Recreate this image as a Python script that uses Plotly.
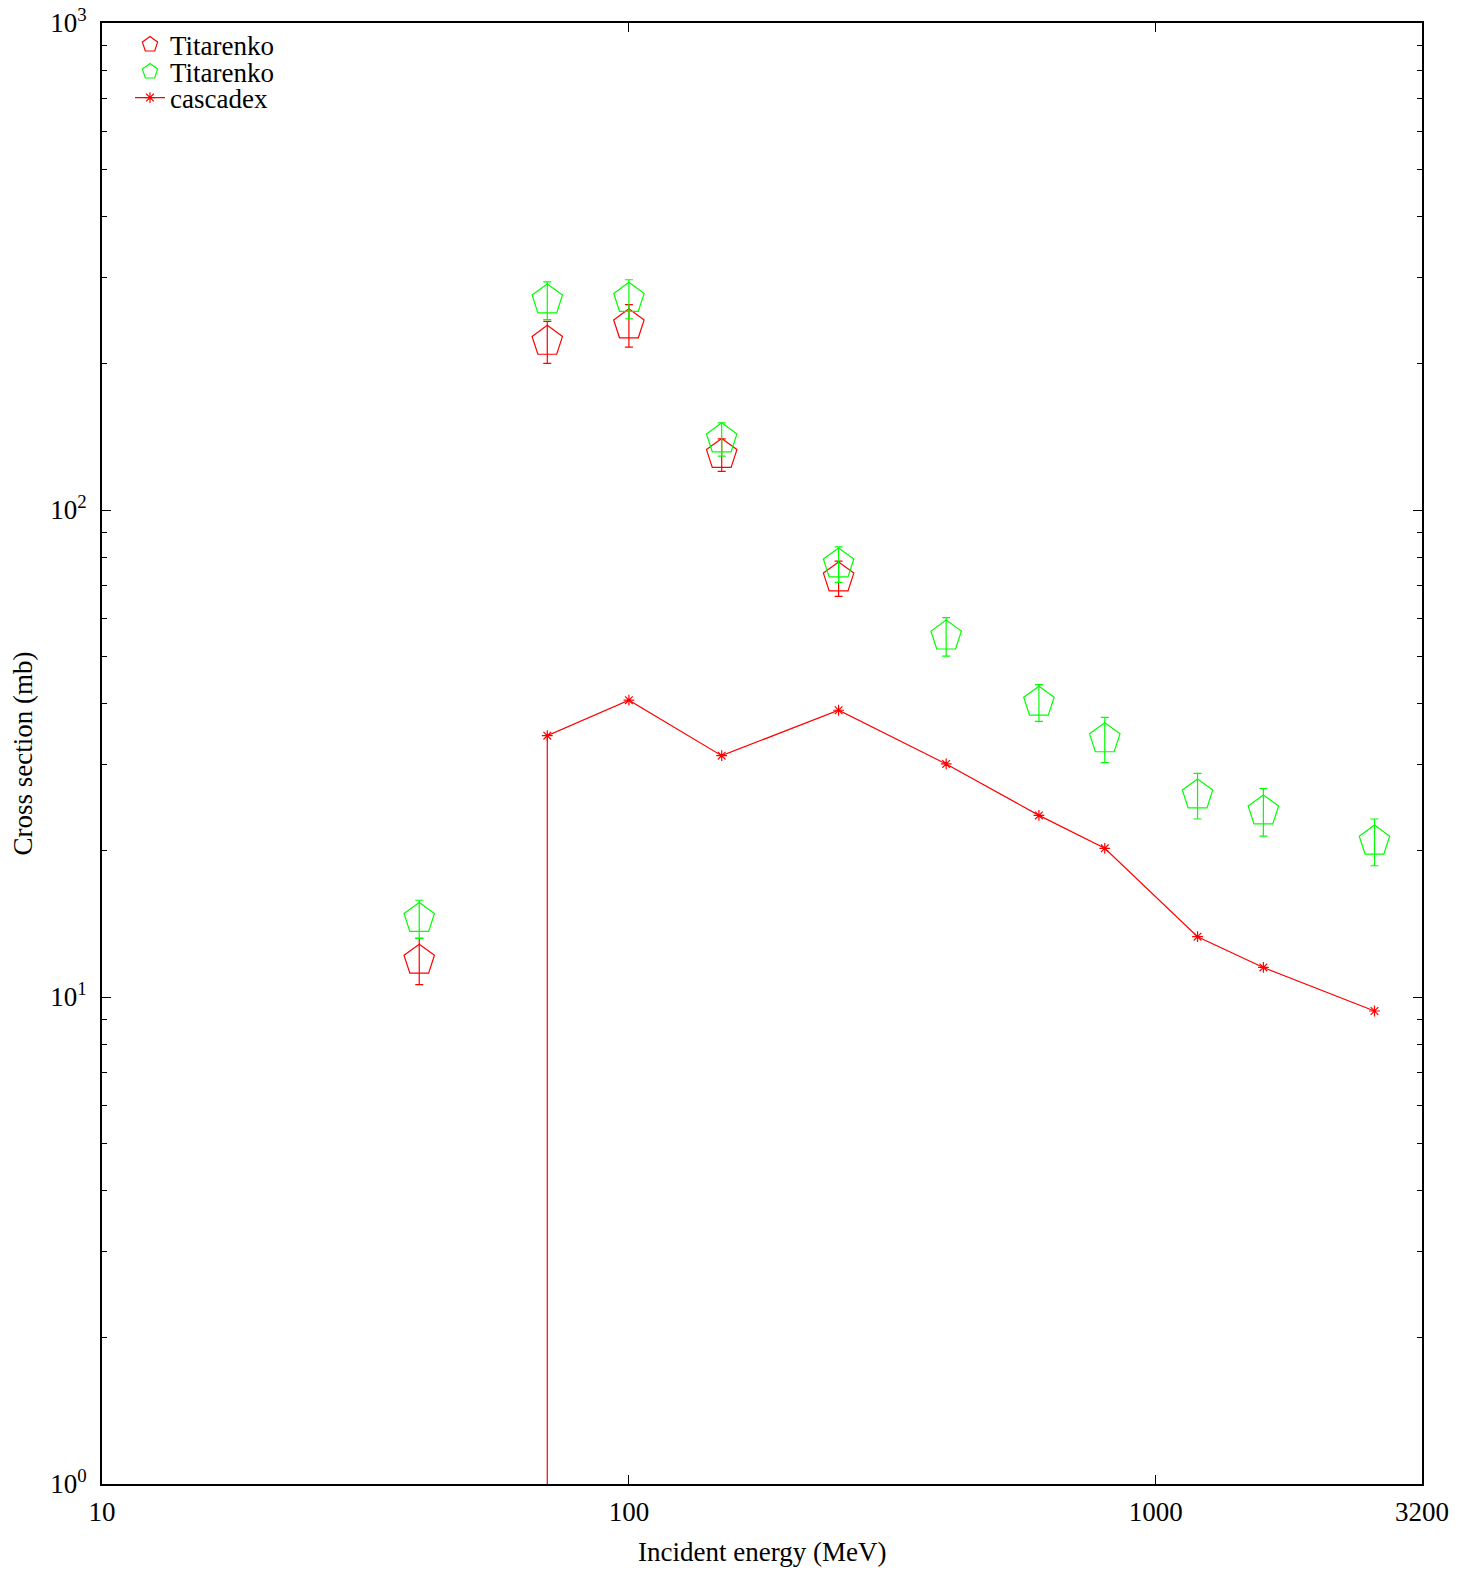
import plotly.graph_objects as go

# ---- data ----
tit_red_e = [40, 70, 100, 150, 250]
tit_red_v = [11.9, 222, 240, 130, 72.5]
tit_red_err = [1.3, 22, 24, 10, 6]

tit_green_e = [40, 70, 100, 150, 250, 400, 600, 800, 1200, 1600, 2600]
tit_green_v = [14.5, 270, 272, 140, 77.5, 55.1, 40.3, 33.9, 26.0, 24.1, 20.9]
tit_green_err = [1.3, 24, 25, 11, 6.5, 5, 3.5, 3.6, 2.8, 2.7, 2.3]

casc_e = [70, 70, 100, 150, 250, 400, 600, 800, 1200, 1600, 2600]
casc_v = [0.001, 34.4, 40.7, 31.3, 38.8, 30.1, 23.6, 20.2, 13.3, 11.5, 9.36]

x_tickvals = [10, 100, 1000, 3200]
x_ticktext = ["10", "100", "1000", "3200"]
y_tickvals = [1, 10, 100, 1000]
y_ticktext = ["10<sup>0</sup>", "10<sup>1</sup>", "10<sup>2</sup>", "10<sup>3</sup>"]
y_minor = [m * d for d in (1, 10, 100) for m in range(2, 10)]

FONT = "Liberation Serif, Times New Roman, serif"
FS = 27
RED = "#ff0000"
GREEN = "#00ff00"

fig = go.Figure()
fig.add_trace(go.Scatter(
    x=tit_red_e, y=tit_red_v, mode="markers", name="Titarenko", legend="legend",
    marker=dict(symbol="pentagon-open", size=32, color=RED, line=dict(width=1.2, color=RED)),
    error_y=dict(type="data", array=tit_red_err, color=RED, thickness=1.2, width=4),
))
fig.add_trace(go.Scatter(
    x=tit_green_e, y=tit_green_v, mode="markers", name="Titarenko", legend="legend2",
    marker=dict(symbol="pentagon-open", size=32, color=GREEN, line=dict(width=1.2, color=GREEN)),
    error_y=dict(type="data", array=tit_green_err, color=GREEN, thickness=1.2, width=4),
))
fig.add_trace(go.Scatter(
    x=casc_e, y=casc_v, mode="lines+markers", name="cascadex", legend="legend3",
    line=dict(color=RED, width=1.2),
    marker=dict(symbol="asterisk-open", size=9, color=RED, line=dict(width=1.2, color=RED)),
))

axis_common = dict(
    showline=True, linecolor="black", linewidth=2, mirror="allticks",
    ticks="inside", ticklen=9, tickwidth=1.2, tickcolor="black",
    showgrid=False, zeroline=False, automargin=False,
    tickfont=dict(family=FONT, size=FS, color="black"),
)

fig.update_xaxes(
    type="log", range=[1, 3.50515], tickmode="array",
    tickvals=x_tickvals, ticktext=x_ticktext, ticklabelstandoff=3,
    **axis_common,
)
fig.update_yaxes(
    type="log", range=[0, 3], tickmode="array",
    tickvals=y_tickvals, ticktext=y_ticktext, ticklabelstandoff=8,
    minor=dict(tickmode="array", tickvals=y_minor, ticks="inside", ticklen=5,
               tickwidth=1.2, tickcolor="black", showgrid=False),
    **axis_common,
)

PW, PH = 1320, 1461


def leg(ypx):
    return dict(x=28 / PW, y=1 - ypx / PH, xanchor="left", yanchor="middle",
                bgcolor="rgba(0,0,0,0)", borderwidth=0,
                font=dict(family=FONT, size=FS, color="black"),
                tracegroupgap=0, itemwidth=30)


fig.update_layout(
    width=1458, height=1570,
    margin=dict(l=102, r=36, t=23, b=86, autoexpand=False),
    paper_bgcolor="white", plot_bgcolor="white",
    font=dict(family=FONT, size=FS, color="black"),
    showlegend=True,
    legend=leg(22), legend2=leg(49), legend3=leg(75),
    annotations=[
        dict(text="Incident energy (MeV)", xref="paper", yref="paper",
             x=0.5, y=-68 / PH, showarrow=False,
             font=dict(family=FONT, size=FS, color="black"),
             xanchor="center", yanchor="middle"),
        dict(text="Cross section (mb)", xref="paper", yref="paper",
             x=-80 / PW, y=0.5, textangle=-90, showarrow=False,
             font=dict(family=FONT, size=FS, color="black"),
             xanchor="center", yanchor="middle"),
    ],
)

fig.write_html(
    "out.html",
    config={"displayModeBar": False},
    post_script="document.body.style.margin='0';document.body.style.padding='0';document.body.style.overflow='hidden';",
)
